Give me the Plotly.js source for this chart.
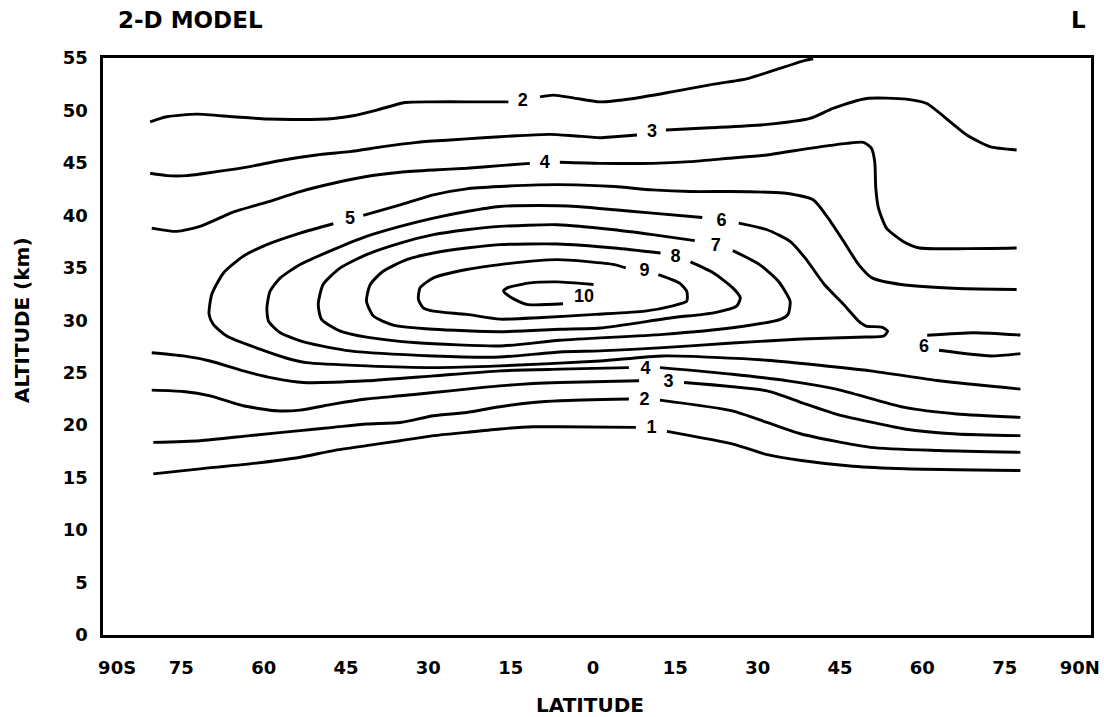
<!DOCTYPE html>
<html>
<head>
<meta charset="utf-8">
<script src="https://cdn.plot.ly/plotly-3.0.1.min.js"></script>
<style>html,body{margin:0;padding:0;background:#fff;}#chart{width:1104px;height:717px;}</style>
</head>
<body>
<div id="chart"></div>
<script>
// ---- Contour lines (latitude in degrees, altitude in km); null = gap for a label ----
const c1Lat = [-80.83,-72.34,-63.27,-54.09,-48.04,-42.00,-35.85,-29.80,-23.75,-17.70,-11.65,-6.77,7.08,null,12.74,24.65,30.99,37.23,46.60,56.06,77.14];
const c1Alt = [15.36,15.84,16.31,16.94,17.58,18.05,18.52,19.00,19.32,19.64,19.85,19.85,19.79,null,19.41,18.21,17.19,16.63,16.08,15.84,15.68];

const c2LowLat = [-80.83,-72.34,-63.27,-54.09,-48.04,-42.00,-35.85,-29.80,-23.75,-17.70,-11.65,-6.77,5.81,null,11.47,24.65,30.99,37.23,49.82,62.31,77.14];
const c2LowAlt = [18.36,18.52,19.00,19.48,19.79,20.11,20.26,20.90,21.21,21.76,22.16,22.33,22.49,null,22.39,21.37,20.26,19.16,17.89,17.58,17.41];

const c3LowLat = [-81.12,-75.36,-70.49,-64.44,-58.39,-54.09,-48.04,-42.00,-35.85,-29.80,-23.75,-17.70,-11.65,-6.77,7.67,null,15.86,30.99,37.23,43.57,56.06,65.53,77.14];
const c3LowAlt = [23.34,23.21,22.80,21.85,21.37,21.44,22.01,22.49,22.80,23.11,23.44,23.75,23.97,24.07,24.23,null,24.07,23.27,22.16,21.06,19.64,19.16,19.00];

const c4LowLat = [-81.12,-75.36,-70.49,-64.44,-58.97,-53.51,-42.00,-29.80,-17.70,-6.77,5.81,null,11.47,24.65,34.79,43.57,56.06,65.53,77.14];
const c4LowAlt = [26.91,26.60,26.12,25.18,24.49,24.07,24.23,24.70,25.18,25.34,25.49,null,25.49,24.86,24.23,23.44,21.69,21.06,20.74];

const c5Lat = [-42.58,-35.85,-29.80,-23.75,-17.70,-10.68,-3.75,3.18,10.11,17.03,24.06,30.99,34.40,39.38,42.11,44.94,47.67,50.11,55.38,65.82,76.45,null,
  -48.04,-54.09,-60.14,-64.44,-68.05,-70.19,-70.68,-69.90,-67.46,-61.41,-56.53,-52.92,-42.00,-29.80,-17.70,0.55,12.06,30.99,49.82,62.31,77.14];
const c5Alt = [40.00,41.01,41.96,42.53,42.75,42.91,42.91,42.75,42.43,42.27,42.27,42.21,42.11,41.48,39.74,37.52,35.31,34.04,33.41,33.03,32.94,null,
  39.20,38.31,37.21,36.10,34.51,32.46,30.56,29.61,28.50,27.24,26.38,25.96,25.65,25.49,25.65,26.12,26.60,26.19,25.18,24.23,23.44];

const c6Lat = [25.82,30.99,35.18,37.91,41.43,44.94,47.67,49.04,51.87,52.94,52.26,49.04,37.23,24.65,12.06,0.55,-6.77,-17.70,-29.80,-45.02,-52.92,-57.70,-59.85,-60.14,
  -59.56,-57.70,-54.09,-48.04,-42.00,-35.85,-29.80,-23.75,-17.70,-10.68,-3.75,3.18,10.11,19.18];
const c6Alt = [39.26,38.63,37.52,35.94,33.41,31.51,29.92,29.45,29.35,28.97,28.50,28.40,28.21,27.83,27.39,27.08,26.98,26.50,26.60,27.08,27.86,28.81,29.92,31.19,
  32.77,34.04,35.31,36.73,38.00,38.95,39.74,40.37,40.85,40.94,40.85,40.53,40.21,39.80];

const c7Lat = [24.74,29.62,33.04,35.18,34.79,33.43,24.65,12.06,-6.77,-17.70,-32.82,-42.00,-46.78,-50.19,-50.78,-49.90,-46.78,-42.00,-35.85,-29.80,-23.75,-17.70,-7.26,3.18,10.11,17.82];
const c7Alt = [36.64,35.31,33.72,31.82,30.56,30.09,29.29,28.66,28.09,27.55,27.86,28.40,28.97,30.09,31.51,33.41,34.99,36.26,37.36,38.16,38.63,38.95,39.11,38.63,38.16,37.59];

const c8Lat = [17.03,21.23,24.74,26.11,25.43,21.23,13.62,0.55,-6.77,-17.70,-29.80,-37.12,-40.73,-42.00,-41.31,-38.97,-34.68,-29.80,-23.75,-17.70,-7.26,3.18,11.57];
const c8Alt = [35.56,34.51,33.09,32.14,31.35,30.71,30.24,29.26,29.14,28.91,29.14,29.54,30.40,31.82,33.41,34.67,35.78,36.41,36.89,37.21,37.27,36.89,36.41];

const c9Lat = [11.18,14.99,16.35,16.35,13.62,8.74,-0.33,-10.68,-17.70,-23.75,-29.80,-31.65,-32.53,-32.24,-29.80,-23.75,-17.70,-7.26,3.18,5.23];
const c9Alt = [34.36,33.56,32.77,31.82,31.35,30.87,30.56,30.24,30.11,30.56,30.87,31.19,31.98,33.09,34.04,34.84,35.31,35.78,35.31,34.99];

const c10Lat = [-0.63,-7.26,-12.14,-16.33,-17.02,-15.55,-12.82,-6.19];
const c10Alt = [33.41,33.66,33.56,33.09,32.77,32.14,31.51,31.57];

const c6TongueLat = [77.14,68.65,60.16,null,62.31,71.77,77.14];
const c6TongueAlt = [28.59,28.81,28.57,null,27.14,26.60,26.82];

const c4UpLat = [-81.12,-76.53,-72.34,-66.29,-60.14,-54.09,-48.04,-42.00,-35.85,-29.80,-23.75,-17.70,-12.24,null,
  -6.77,0.55,10.11,17.03,24.06,30.99,38.79,45.53,48.55,50.01,50.60,50.79,51.28,52.74,55.77,58.79,67.38,76.45];
const c4UpAlt = [38.79,38.47,38.95,40.31,41.26,42.27,43.06,43.70,44.11,44.33,44.49,44.74,44.96,null,
  45.06,44.96,44.96,45.12,45.44,45.76,46.39,46.86,46.96,46.39,45.12,42.59,40.69,38.79,37.52,36.89,36.83,36.89];

const c3UpLat = [-81.41,-78.39,-74.78,-69.32,-63.27,-57.12,-51.07,-45.02,-38.97,-32.82,-26.77,-20.73,-14.63,-8.63,-4.33,0.55,3.18,7.28,null,
  12.55,20.55,30.99,38.79,42.99,49.13,56.35,60.06,64.36,67.38,71.58,76.45];
const c3UpAlt = [44.01,43.79,43.79,44.17,44.65,45.28,45.76,46.07,46.55,46.96,47.18,47.40,47.59,47.72,47.59,47.40,47.50,47.66,null,
  48.13,48.35,48.67,49.24,50.19,51.14,51.08,50.66,48.92,47.66,46.55,46.23];

const c2UpLat = [-81.41,-78.39,-72.93,-66.29,-60.14,-54.09,-48.04,-44.43,-40.14,-34.97,-29.80,-23.75,-16.14,null,
  -10.38,-7.94,-4.33,0.55,6.69,13.62,20.55,27.47,32.45,37.91,39.38];
const c2UpAlt = [48.92,49.40,49.65,49.40,49.18,49.14,49.24,49.49,50.03,50.76,50.82,50.82,50.82,null,
  51.30,51.46,51.20,50.82,51.14,51.77,52.44,53.04,53.86,54.78,54.93];

// ---- Contour labels ----
const labelText = ['2','3','4','5','6','7','8','9','10','4','3','2','1','6'];
const labelLat  = [-13.51,10.01,-9.50,-45.02,22.69,21.62,14.30,8.64,-2.38,8.84,13.03,8.64,9.91,59.57];
const labelAlt  = [50.9,47.88,44.96,39.58,39.42,37.05,35.94,34.67,32.20,25.34,24.07,22.33,19.64,27.39];

// ---- Axis ticks (the end labels sit just inside the frame, as in the original) ----
const xTickVals = [-86.7,-75,-60,-45,-30,-15,0,15,30,45,60,75,88.7];
const xTickText = ['90S','75','60','45','30','15','0','15','30','45','60','75','90N'];
const yTickVals = [0,5,10,15,20,25,30,35,40,45,50,55];

const lines = [
  [c1Lat,c1Alt],[c2LowLat,c2LowAlt],[c3LowLat,c3LowAlt],[c4LowLat,c4LowAlt],
  [c5Lat,c5Alt],[c6Lat,c6Alt],[c7Lat,c7Alt],[c8Lat,c8Alt],[c9Lat,c9Alt],[c10Lat,c10Alt],
  [c6TongueLat,c6TongueAlt],[c4UpLat,c4UpAlt],[c3UpLat,c3UpAlt],[c2UpLat,c2UpAlt]
];

const FONT = 'Liberation Sans, Arial, Helvetica, sans-serif';
const WIDE = 'DejaVu Sans, Verdana, sans-serif';
const traces = lines.map(function(p){
  return {x:p[0], y:p[1], type:'scatter', mode:'lines', connectgaps:false,
    line:{color:'#000', width:2.9, shape:'spline', smoothing:0.6}, hoverinfo:'skip', showlegend:false};
});
traces.push({x:labelLat, y:labelAlt, text:labelText, type:'scatter', mode:'text',
  textfont:{family:FONT, size:18, color:'#000', weight:'bold'}, textposition:'middle center',
  hoverinfo:'skip', showlegend:false});

const L = 103, R = 13, T = 58, B = 82;
const PW = 1104 - L - R, PH = 717 - T - B;
function pxX(px){ return (px - L) / PW; }
function pxY(py){ return (717 - B - py) / PH; }
const layout = {
  width:1104, height:717,
  margin:{l:L, r:R, t:T, b:B},
  paper_bgcolor:'#fff', plot_bgcolor:'#fff',
  font:{family:WIDE, color:'#000'},
  xaxis:{range:[-90,90], tickvals:xTickVals, ticktext:xTickText, ticks:'', showgrid:false, zeroline:false,
    showline:true, mirror:true, linecolor:'#000', linewidth:2.7, ticklabelshift:-4, ticklabeloverflow:'allow',
    tickfont:{family:WIDE, size:18, color:'#000', weight:'bold'}, ticklabelstandoff:15},
  yaxis:{range:[0,55], tickvals:yTickVals, ticks:'', showgrid:false, zeroline:false,
    showline:true, mirror:true, linecolor:'#000', linewidth:2.7,
    tickfont:{family:WIDE, size:18, color:'#000', weight:'bold'}, ticklabelstandoff:9},
  annotations:[
    {text:'2-D MODEL', xref:'paper', yref:'paper', x:pxX(116), y:pxY(20), xanchor:'left', yanchor:'middle', showarrow:false,
      font:{family:WIDE, size:23, color:'#000', weight:'bold'}},
    {text:'L', xref:'paper', yref:'paper', x:pxX(1078), y:pxY(20), xanchor:'center', yanchor:'middle', showarrow:false,
      font:{family:WIDE, size:23, color:'#000', weight:'bold'}},
    {text:'LATITUDE', xref:'paper', yref:'paper', x:pxX(590), y:pxY(705), xanchor:'center', yanchor:'middle', showarrow:false,
      font:{family:WIDE, size:20, color:'#000', weight:'bold'}},
    {text:'ALTITUDE (km)', xref:'paper', yref:'paper', x:pxX(22), y:pxY(320), xanchor:'center', yanchor:'middle', textangle:-90, showarrow:false,
      font:{family:WIDE, size:20, color:'#000', weight:'bold'}}
  ]
};
Plotly.newPlot('chart', traces, layout, {displayModeBar:false, staticPlot:true});
</script>
</body>
</html>
